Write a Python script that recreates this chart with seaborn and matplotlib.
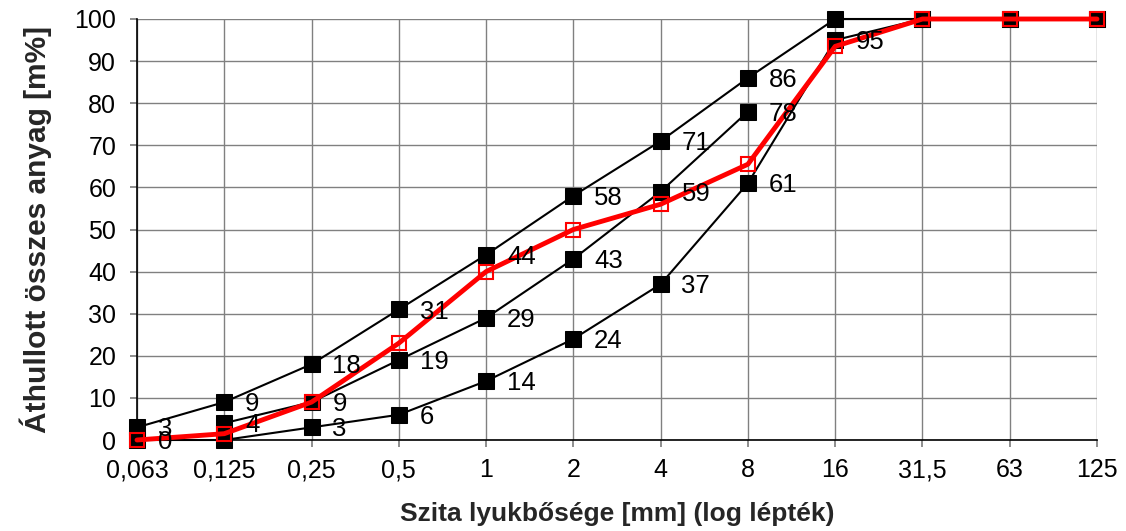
import matplotlib
matplotlib.use("Agg")
import matplotlib.pyplot as plt
import seaborn as sns
import pandas as pd
import numpy as np

sieves = ["0,063", "0,125", "0,25", "0,5", "1", "2", "4", "8", "16", "31,5", "63", "125"]
upper = [3, 9, 18, 31, 44, 58, 71, 86, 100, 100, 100, 100]
middle = [np.nan, 4, 9, 19, 29, 43, 59, 78, np.nan, np.nan, np.nan, np.nan]
lower = [0, 0, 3, 6, 14, 24, 37, 61, 95, 100, 100, 100]
mix = [0, 1.5, 9, 23, 40, 50, 56, 65.5, 93.5, 100, 100, 100]

upper_labels = [3, 9, 18, 31, 44, 58, 71, 86, None, None, None, None]
middle_labels = [None, 4, 9, 19, 29, 43, 59, 78, None, None, None, None]
lower_labels = [0, None, 3, 6, 14, 24, 37, 61, 95, None, None, None]

sns.set_theme(style="white")
plt.rcParams['font.family'] = ['Liberation Sans', 'DejaVu Sans']

fig = plt.figure(figsize=(11.26, 5.31), dpi=100)
ax = fig.add_axes([137/1126, 1-440/531, (1097-137)/1126, (440-19)/531])

pos = np.arange(len(sieves))
for vals in (upper, middle, lower):
    df = pd.DataFrame({"x": pos, "y": vals}).dropna()
    sns.lineplot(data=df, x="x", y="y", ax=ax, color="black", linewidth=1.5,
                 marker="s", markersize=11, markerfacecolor="black",
                 markeredgecolor="black", clip_on=False, zorder=3)

dfm = pd.DataFrame({"x": pos, "y": mix})
sns.lineplot(data=dfm, x="x", y="y", ax=ax, color="#ff0000", linewidth=3.5,
             marker="s", markersize=10, markerfacecolor="none",
             markeredgecolor="#ff0000", markeredgewidth=1.5, clip_on=False, zorder=4)

for vals, labs in ((upper, upper_labels), (middle, middle_labels), (lower, lower_labels)):
    for i, (v, l) in enumerate(zip(vals, labs)):
        if l is None:
            continue
        ax.annotate(str(l), (i, v), xytext=(15, -1.5), textcoords="offset points",
                    ha="left", va="center", fontsize=18.5, color="black", zorder=5)

ax.set_xlim(0, len(sieves) - 1)
ax.set_ylim(0, 100)
ax.set_xticks(pos)
ax.set_xticklabels(sieves)
ax.set_yticks(range(0, 101, 10))
ax.tick_params(axis="both", labelsize=18, colors="black", length=5, direction="out",
               bottom=True, left=True, color="#808080")
ax.tick_params(axis="y", pad=10)
ax.tick_params(axis="x", pad=8)
ax.grid(True, color="#808080", linewidth=1)
ax.set_axisbelow(True)
for s in ("top", "right"):
    ax.spines[s].set_visible(False)
for s in ("left", "bottom"):
    ax.spines[s].set_color("black")
    ax.spines[s].set_linewidth(1.2)

ax.set_xlabel("Szita lyukbősége [mm] (log lépték)", fontsize=19, fontweight="bold", labelpad=14)
ax.set_ylabel("Áthullott összes anyag [m%]", fontsize=21.5, fontweight="bold", labelpad=16)

fig.savefig("out.png", dpi=100)
